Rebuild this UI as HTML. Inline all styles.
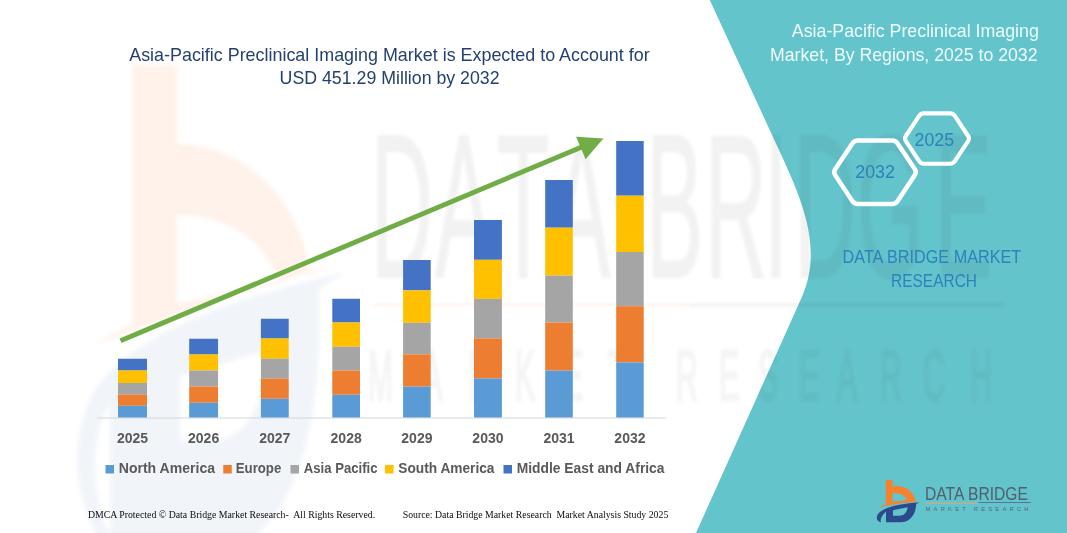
<!DOCTYPE html>
<html lang="en">
<head>
<meta charset="utf-8">
<title>Asia-Pacific Preclinical Imaging Market</title>
<style>
html,body{margin:0;padding:0;background:#fff;}
body{width:1067px;height:533px;overflow:hidden;position:relative;}
svg{position:absolute;left:0;top:0;display:block;}
text{font-family:"Liberation Sans",sans-serif;}
.serif{font-family:"Liberation Serif",serif;}
.b{font-weight:bold;}
</style>
</head>
<body>
<svg width="1067" height="533" viewBox="0 0 1067 533">
<defs>
<filter id="blur2" x="-10%" y="-10%" width="120%" height="120%"><feGaussianBlur stdDeviation="2"/></filter>
<filter id="blur1" x="-10%" y="-10%" width="120%" height="120%"><feGaussianBlur stdDeviation="1.6"/></filter>
</defs>
<rect x="0" y="0" width="1067" height="533" fill="#ffffff"/>
<g id="wm-logo" filter="url(#blur2)">
<path d="M132 65 L177 65 L177 144 C235 144 300 190 310 275 L345 262 C250 290 170 315 96 345 C110 335 122 329 132 324 Z M177 215 L177 304 L277 281 C266 236 218 214 177 215 Z" fill="#FEF2EA" fill-rule="evenodd"/>
<path d="M345 272 C240 296 120 335 90 400 C68 450 76 500 100 540 L112 540 C92 500 90 450 104 415 L110 402 L110 540 L250 540 C305 500 324 400 318 290 Z M180 376 L268 350 C268 395 248 440 215 440 L180 440 Z" fill="#F1F4F9" fill-rule="evenodd"/>
</g>
<path id="panel" d="M709.75 0 L778.89 149.81 C802.71 201.44 823.52 248.75 801.42 298.01 L696 533 L1067 533 L1067 0 Z" fill="#64C4CB"/>
<g id="wm-text" filter="url(#blur1)">
<g transform="scale(0.42 1)" opacity="0.05" fill="#000" stroke="#000" stroke-width="1.5"><text x="883.3 1035.7 1183.3 1316.7" y="277" font-size="204" vector-effect="non-scaling-stroke">DATA</text><text x="1538.1 1678.6 1819.0 1890.5 2040.5 2226.2" y="277" font-size="204" vector-effect="non-scaling-stroke">BRIDGE</text></g>
<rect x="374" y="303.5" width="313" height="3" fill="#FDF2EC"/>
<rect x="687" y="303.5" width="317" height="3" fill="#000820" opacity="0.06"/>
<g transform="scale(0.43 1)" opacity="0.04" fill="#000" stroke="#000" stroke-width="2.4"><text x="855.8 981.4 1090.7 1197.7 1309.3 1414.0" y="400" font-size="70" vector-effect="non-scaling-stroke">MARKET</text><text x="1572.1 1672.1 1762.8 1858.1 1946.5 2046.5 2146.5 2255.8" y="400" font-size="70" vector-effect="non-scaling-stroke">RESEARCH</text></g>
</g>
<rect x="97.5" y="417.5" width="568.7" height="1" fill="#D6D6D6"/>
<rect x="118" y="358.75" width="29" height="11.75" fill="#4472C4"/>
<rect x="118" y="370.5" width="29" height="12.5" fill="#FFC000"/>
<rect x="118" y="383" width="29" height="11.5" fill="#A5A5A5"/>
<rect x="118" y="394.5" width="29" height="11.25" fill="#ED7D31"/>
<rect x="118" y="405.75" width="29" height="11.75" fill="#5B9BD5"/>
<rect x="189.2" y="338.75" width="28.85" height="15.75" fill="#4472C4"/>
<rect x="189.2" y="354.5" width="28.85" height="16.0" fill="#FFC000"/>
<rect x="189.2" y="370.5" width="28.85" height="16.0" fill="#A5A5A5"/>
<rect x="189.2" y="386.5" width="28.85" height="16.25" fill="#ED7D31"/>
<rect x="189.2" y="402.75" width="28.85" height="14.75" fill="#5B9BD5"/>
<rect x="260.9" y="318.75" width="27.8" height="19.75" fill="#4472C4"/>
<rect x="260.9" y="338.5" width="27.8" height="20.25" fill="#FFC000"/>
<rect x="260.9" y="358.75" width="27.8" height="19.75" fill="#A5A5A5"/>
<rect x="260.9" y="378.5" width="27.8" height="20.25" fill="#ED7D31"/>
<rect x="260.9" y="398.75" width="27.8" height="18.75" fill="#5B9BD5"/>
<rect x="332.3" y="298.75" width="27.7" height="23.75" fill="#4472C4"/>
<rect x="332.3" y="322.5" width="27.7" height="24.25" fill="#FFC000"/>
<rect x="332.3" y="346.75" width="27.7" height="23.75" fill="#A5A5A5"/>
<rect x="332.3" y="370.5" width="27.7" height="24.25" fill="#ED7D31"/>
<rect x="332.3" y="394.75" width="27.7" height="22.75" fill="#5B9BD5"/>
<rect x="403.1" y="260" width="27.6" height="30.4" fill="#4472C4"/>
<rect x="403.1" y="290.4" width="27.6" height="32.4" fill="#FFC000"/>
<rect x="403.1" y="322.8" width="27.6" height="31.5" fill="#A5A5A5"/>
<rect x="403.1" y="354.3" width="27.6" height="32.3" fill="#ED7D31"/>
<rect x="403.1" y="386.6" width="27.6" height="30.9" fill="#5B9BD5"/>
<rect x="474" y="220" width="27.9" height="39.8" fill="#4472C4"/>
<rect x="474" y="259.8" width="27.9" height="39.1" fill="#FFC000"/>
<rect x="474" y="298.9" width="27.9" height="39.4" fill="#A5A5A5"/>
<rect x="474" y="338.3" width="27.9" height="40.1" fill="#ED7D31"/>
<rect x="474" y="378.4" width="27.9" height="39.1" fill="#5B9BD5"/>
<rect x="545.2" y="180" width="27.6" height="47.7" fill="#4472C4"/>
<rect x="545.2" y="227.7" width="27.6" height="47.9" fill="#FFC000"/>
<rect x="545.2" y="275.6" width="27.6" height="46.9" fill="#A5A5A5"/>
<rect x="545.2" y="322.5" width="27.6" height="48.1" fill="#ED7D31"/>
<rect x="545.2" y="370.6" width="27.6" height="46.9" fill="#5B9BD5"/>
<rect x="616.2" y="141" width="27.5" height="54.7" fill="#4472C4"/>
<rect x="616.2" y="195.7" width="27.5" height="56.3" fill="#FFC000"/>
<rect x="616.2" y="252" width="27.5" height="54.2" fill="#A5A5A5"/>
<rect x="616.2" y="306.2" width="27.5" height="56.2" fill="#ED7D31"/>
<rect x="616.2" y="362.4" width="27.5" height="55.1" fill="#5B9BD5"/>
<text class="b" x="116.90" y="443" font-size="14" textLength="31.2" lengthAdjust="spacingAndGlyphs" fill="#595959">2025</text>
<text class="b" x="188.03" y="443" font-size="14" textLength="31.2" lengthAdjust="spacingAndGlyphs" fill="#595959">2026</text>
<text class="b" x="259.20" y="443" font-size="14" textLength="31.2" lengthAdjust="spacingAndGlyphs" fill="#595959">2027</text>
<text class="b" x="330.55" y="443" font-size="14" textLength="31.2" lengthAdjust="spacingAndGlyphs" fill="#595959">2028</text>
<text class="b" x="401.30" y="443" font-size="14" textLength="31.2" lengthAdjust="spacingAndGlyphs" fill="#595959">2029</text>
<text class="b" x="472.35" y="443" font-size="14" textLength="31.2" lengthAdjust="spacingAndGlyphs" fill="#595959">2030</text>
<text class="b" x="543.40" y="443" font-size="14" textLength="31.2" lengthAdjust="spacingAndGlyphs" fill="#595959">2031</text>
<text class="b" x="614.35" y="443" font-size="14" textLength="31.2" lengthAdjust="spacingAndGlyphs" fill="#595959">2032</text>
<g id="arrow" fill="#70AD47" stroke="none">
<path d="M119.55 338.44 L121.45 342.96 L583.95 148.66 L582.05 144.14 Z"/>
<path d="M576.1 136.7 L603.4 138.6 L585.6 159.2 Z"/>
</g>
<rect x="105.5" y="465" width="8.5" height="8.5" fill="#5B9BD5"/>
<text class="b" x="118.75" y="473.25" font-size="14" textLength="96.25" lengthAdjust="spacingAndGlyphs" fill="#595959">North America</text>
<rect x="223.25" y="465" width="8.5" height="8.5" fill="#ED7D31"/>
<text class="b" x="235.75" y="473.25" font-size="14" textLength="45.5" lengthAdjust="spacingAndGlyphs" fill="#595959">Europe</text>
<rect x="290.5" y="465" width="8.5" height="8.5" fill="#A5A5A5"/>
<text class="b" x="303.75" y="473.25" font-size="14" textLength="73.75" lengthAdjust="spacingAndGlyphs" fill="#595959">Asia Pacific</text>
<rect x="385" y="465" width="8.5" height="8.5" fill="#FFC000"/>
<text class="b" x="398.25" y="473.25" font-size="14" textLength="96.25" lengthAdjust="spacingAndGlyphs" fill="#595959">South America</text>
<rect x="503.5" y="465" width="8.5" height="8.5" fill="#4472C4"/>
<text class="b" x="516.75" y="473.25" font-size="14" textLength="147.75" lengthAdjust="spacingAndGlyphs" fill="#595959">Middle East and Africa</text>
<text x="129.2" y="60.8" font-size="18.5" textLength="520.5" lengthAdjust="spacingAndGlyphs" fill="#243F70">Asia-Pacific Preclinical Imaging Market is Expected to Account for</text>
<text x="279.6" y="84.1" font-size="18.5" textLength="220" lengthAdjust="spacingAndGlyphs" fill="#243F70">USD 451.29 Million by 2032</text>
<text x="791.8" y="37" font-size="18.5" textLength="247" lengthAdjust="spacingAndGlyphs" fill="#EEFBFC">Asia-Pacific Preclinical Imaging</text>
<text x="770" y="60.6" font-size="18.5" textLength="267.5" lengthAdjust="spacingAndGlyphs" fill="#EEFBFC">Market, By Regions, 2025 to 2032</text>
<g fill="none" stroke="#FFFFFF" stroke-linejoin="round">
<path d="M835.14 175.12 Q833.20 172.20 835.14 169.29 L852.36 143.41 Q854.30 140.50 857.80 140.50 L892.20 140.50 Q895.70 140.50 897.64 143.41 L914.86 169.29 Q916.80 172.20 914.86 175.12 L897.64 201.08 Q895.70 204.00 892.20 204.00 L857.80 204.00 Q854.30 204.00 852.36 201.08 Z" stroke-width="4.5"/>
<path d="M905.85 141.01 Q904.20 138.50 905.85 136.00 L919.15 115.90 Q920.80 113.40 923.80 113.40 L950.20 113.40 Q953.20 113.40 954.85 115.90 L968.15 136.00 Q969.80 138.50 968.15 141.01 L954.85 161.19 Q953.20 163.70 950.20 163.70 L923.80 163.70 Q920.80 163.70 919.15 161.19 Z" stroke-width="4.1"/>
</g>
<text x="855.3" y="177.7" font-size="18.5" textLength="39.6" lengthAdjust="spacingAndGlyphs" fill="#2B82B9">2032</text>
<text x="914.6" y="145.7" font-size="18.5" textLength="39.4" lengthAdjust="spacingAndGlyphs" fill="#2B82B9">2025</text>
<text x="842.6" y="262.6" font-size="17.8" textLength="178.6" lengthAdjust="spacingAndGlyphs" fill="#2E82BC">DATA BRIDGE MARKET</text>
<text x="891" y="286.6" font-size="17.8" textLength="86" lengthAdjust="spacingAndGlyphs" fill="#2E82BC">RESEARCH</text>
<text class="serif" x="87.9" y="518" font-size="10.3" textLength="287.3" lengthAdjust="spacingAndGlyphs" fill="#0a0a0a" xml:space="preserve">DMCA Protected © Data Bridge Market Research-  All Rights Reserved.</text>
<text class="serif" x="402.7" y="518" font-size="10.3" textLength="265.6" lengthAdjust="spacingAndGlyphs" fill="#0a0a0a" xml:space="preserve">Source: Data Bridge Market Research  Market Analysis Study 2025</text>
<g id="logo">
<g transform="translate(868 472) scale(0.11257)">
<path d="M158 72 L218 72 L218 128 C300 108 412 160 421 262 L456 266 C330 268 200 285 75 323 C105 306 135 296 158 290 Z M218 188 L218 265 C255 259 300 255 345 253 C338 212 280 182 218 188 Z" fill="#F5822F" fill-rule="evenodd"/>
<path d="M456 272 C330 277 190 300 122 345 C85 370 68 400 84 426 C91 437 102 444 116 448 C106 424 116 394 160 352 L160 446 L300 446 C380 441 426 370 428 284 Z M222 339 L352 313 C350 352 320 389 280 389 L222 389 Z" fill="#2B4A8D" fill-rule="evenodd"/>
</g>
<text x="925" y="499.5" font-size="17.8" textLength="103" lengthAdjust="spacingAndGlyphs" fill="#50606E">DATA BRIDGE</text>
<rect x="925.5" y="502.6" width="51.5" height="1" fill="#E8A878"/>
<rect x="978.5" y="502" width="52.3" height="1" fill="#55789A"/>
<text x="925.5" y="511" font-size="5.8" textLength="103" lengthAdjust="spacing" fill="#50687C">MARKET RESEARCH</text>
</g>
</svg>
</body>
</html>
